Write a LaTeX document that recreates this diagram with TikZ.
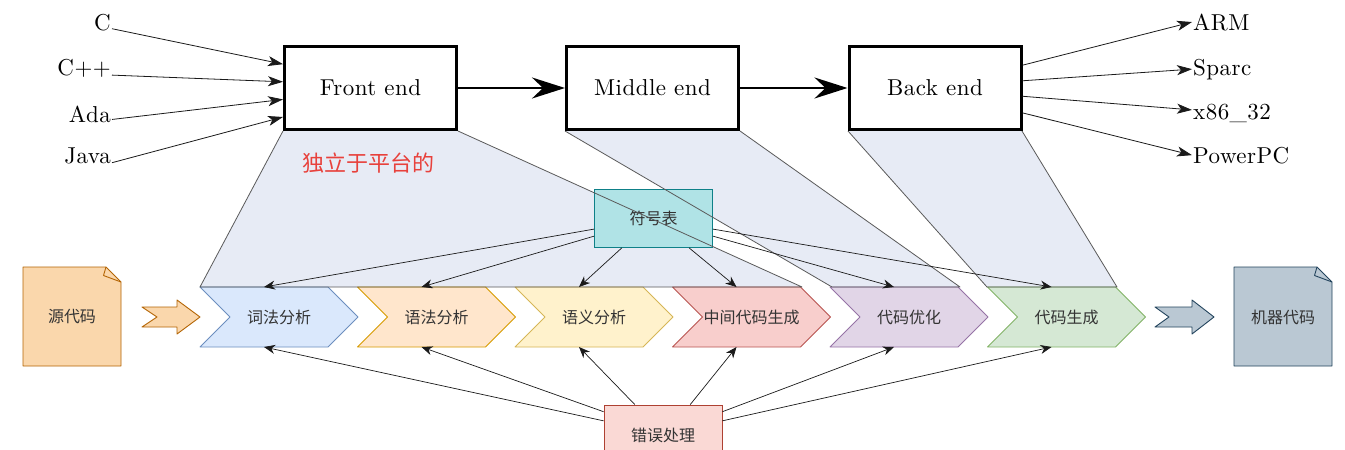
\documentclass[tikz,border=0pt]{standalone}
\usepackage{fontspec}
\newfontfamily\cjk{Noto Sans CJK SC}
\newfontfamily\lmten{lmroman10-regular.otf}[LetterSpace=2]
\usetikzlibrary{arrows.meta,calc}
\definecolor{trapc}{HTML}{E7EBF5}
\definecolor{trapl}{HTML}{5A5A5A}
\definecolor{txt}{HTML}{333333}
\definecolor{redc}{HTML}{E8413C}
\definecolor{cAf}{HTML}{DAE8FC}\definecolor{cAd}{HTML}{6C8EBF}
\definecolor{cBf}{HTML}{FFE6CC}\definecolor{cBd}{HTML}{D79B00}
\definecolor{cCf}{HTML}{FFF2CC}\definecolor{cCd}{HTML}{D6B656}
\definecolor{cDf}{HTML}{F8CECC}\definecolor{cDd}{HTML}{B85450}
\definecolor{cEf}{HTML}{E1D5E7}\definecolor{cEd}{HTML}{9673A6}
\definecolor{cFf}{HTML}{D5E8D4}\definecolor{cFd}{HTML}{82B366}
\definecolor{symf}{HTML}{B0E3E6}\definecolor{symd}{HTML}{0E8088}
\definecolor{errf}{HTML}{FAD9D5}\definecolor{errd}{HTML}{AE4132}
\definecolor{srcf}{HTML}{FAD7AC}\definecolor{srcd}{HTML}{B46504}
\definecolor{mchf}{HTML}{BAC8D3}\definecolor{mchd}{HTML}{23445D}
\definecolor{arr}{HTML}{1A1A1A}
\tikzset{
  bigbox/.style={draw=black, line width=3pt, fill=white, minimum width=172pt,
    minimum height=83pt, inner sep=0pt, font=\lmten\fontsize{23}{27}\selectfont},
  langlbl/.style={inner sep=1pt, font=\lmten\fontsize{23}{27}\selectfont},
  thinarrow/.style={draw=arr, line width=0.8pt, -{Stealth[length=15pt,width=10pt,inset=4pt]}},
  smallarrow/.style={draw=arr, line width=0.7pt, -{Stealth[length=11pt,width=9pt,inset=3.5pt]}},
  bigarrow/.style={draw=black, line width=2.5pt, -{Stealth[length=33pt,width=21pt,inset=11pt]}},
  trapline/.style={draw=trapl, line width=0.8pt, line join=round},
  cjktext/.style={inner sep=0pt, text=txt, font=\cjk\fontsize{16}{19}\selectfont},
  infobox/.style={cjktext, line width=0.8pt, minimum width=118pt, minimum height=58pt},
  notebox/.style={line width=0.9pt, line join=round},
}
\begin{document}
\begin{tikzpicture}[x=1pt,y=-1pt]
\clip (0,0) rectangle (1345,450);
\fill[white] (0,0) rectangle (1345,450);

% trapezoid fills
\fill[trapc] (283,131) -- (458,131) -- (802,287) -- (200,287) -- cycle;
\fill[trapc] (565,131) -- (740,131) -- (960,287) -- (832,287) -- cycle;
\fill[trapc] (848,131) -- (1022,131) -- (1117,287) -- (987,287) -- cycle;

% phase chevrons
\foreach \x/\f/\d/\t [count=\i] in {200/cAf/cAd/词法分析, 357.5/cBf/cBd/语法分析,
    515/cCf/cCd/语义分析, 672.5/cDf/cDd/中间代码生成, 830/cEf/cEd/代码优化,
    987.5/cFf/cFd/代码生成}{
  \filldraw[fill=\f, draw=\d, line width=0.8pt, line join=round]
    (\x,287) -- ++(128,0) -- ++(30,30) -- ++(-30,30) -- ++(-128,0) -- ++(30,-30) -- cycle;
  \node[cjktext] (p\i) at (\x+79,317) {\t};
  \coordinate (pt\i) at (\x+64,287);
  \coordinate (pb\i) at (\x+64,347);
}

% symbol table and error handling
\node[infobox, draw=symd, fill=symf] (sym) at (653.5,218.5) {符号表};
\node[infobox, draw=errd, fill=errf, minimum height=60pt] (err) at (663,435) {错误处理};

% trapezoid outlines
\draw[trapline] (283,131) -- (200,287) -- (802,287) -- (458,131);
\draw[trapline] (565,131) -- (832,287) -- (960,287) -- (740,131);
\draw[trapline] (848,131) -- (987,287) -- (1117,287) -- (1022,131);

% top boxes
\node[bigbox] (fe) at (370.5,88) {Front end};
\node[bigbox] (me) at (652.5,88) {Middle end};
\node[bigbox] (be) at (935,88) {Back end};
\draw[bigarrow] (fe) -- (me);
\draw[bigarrow] (me) -- (be);

% source languages
\node[langlbl, anchor=base east] (lC) at (112,30) {C};
\node[langlbl, anchor=base east] (lCpp) at (112,75) {C++};
\node[langlbl, anchor=base east] (lAda) at (112,122) {Ada};
\node[langlbl, anchor=base east] (lJava) at (112,163) {Java};
\draw[thinarrow] ([yshift=3pt]lC.south east) -- ($(fe.north west)!0.223!(fe.south west)$);
\draw[thinarrow] ([yshift=3pt]lCpp.south east) -- ($(fe.north west)!0.428!(fe.south west)$);
\draw[thinarrow] ([yshift=4pt]lAda.south east) -- ($(fe.north west)!0.633!(fe.south west)$);
\draw[thinarrow] ([yshift=2pt]lJava.south east) -- ($(fe.north west)!0.837!(fe.south west)$);

% targets
\node[langlbl, anchor=base west] (lARM) at (1192,30) {ARM};
\node[langlbl, anchor=base west] (lSparc) at (1192,75) {Sparc};
\node[langlbl, anchor=base west] (lx86) at (1192,119) {x86\_32};
\node[langlbl, anchor=base west] (lPPC) at (1192,163) {PowerPC};
\draw[thinarrow] ($(be.north east)!0.235!(be.south east)$) -- (lARM.west);
\draw[thinarrow] ($(be.north east)!0.416!(be.south east)$) -- (lSparc.west);
\draw[thinarrow] ($(be.north east)!0.596!(be.south east)$) -- ([yshift=3pt]lx86.west);
\draw[thinarrow] ($(be.north east)!0.789!(be.south east)$) -- (lPPC.west);

% red label
\node[inner sep=0pt, text=redc, font=\cjk\fontsize{22}{26}\selectfont] (indep) at (368,163) {独立于平台的};

% source code note
\filldraw[notebox, fill=srcf, draw=srcd] (23,267) -- (106,267) -- (121,282) -- (121,366) -- (23,366) -- cycle;
\draw[notebox, draw=srcd] (106,267) -- (103.5,275.5) -- (121,282);
\node[cjktext] (src) at (72,317) {源代码};
\filldraw[notebox, fill=srcf, draw=srcd] (142,307) -- (177,307) -- (177,300) -- (200,317)
  -- (177,334) -- (177,327) -- (142,327) -- (157,317) -- cycle;

% machine code note
\filldraw[notebox, fill=mchf, draw=mchd] (1234,267) -- (1317,267) -- (1332,282) -- (1332,366) -- (1234,366) -- cycle;
\draw[notebox, draw=mchd] (1317,267) -- (1314.5,275.5) -- (1332,282);
\node[cjktext] (mch) at (1283,317) {机器代码};
\filldraw[notebox, fill=mchf, draw=mchd] (1155,307) -- (1192,307) -- (1192,300) -- (1214,317)
  -- (1192,334) -- (1192,327) -- (1155,327) -- (1169,317) -- cycle;

% symbol table arrows
\draw[smallarrow] ($(sym.north west)!0.68!(sym.south west)$) -- (pt1);
\draw[smallarrow] ($(sym.north west)!0.80!(sym.south west)$) -- (pt2);
\draw[smallarrow] ($(sym.south west)!0.233!(sym.south east)$) -- (pt3);
\draw[smallarrow] ($(sym.south west)!0.80!(sym.south east)$) -- (pt4);
\draw[smallarrow] ($(sym.north east)!0.80!(sym.south east)$) -- (pt5);
\draw[smallarrow] ($(sym.north east)!0.68!(sym.south east)$) -- (pt6);

% error handling arrows
\draw[smallarrow] ($(err.north west)!0.267!(err.south west)$) -- (pb1);
\draw[smallarrow] ($(err.north west)!0.117!(err.south west)$) -- (pb2);
\draw[smallarrow] ($(err.north west)!0.263!(err.north east)$) -- (pb3);
\draw[smallarrow] ($(err.north west)!0.729!(err.north east)$) -- (pb4);
\draw[smallarrow] ($(err.north east)!0.117!(err.south east)$) -- (pb5);
\draw[smallarrow] ($(err.north east)!0.267!(err.south east)$) -- (pb6);
\end{tikzpicture}
\end{document}
